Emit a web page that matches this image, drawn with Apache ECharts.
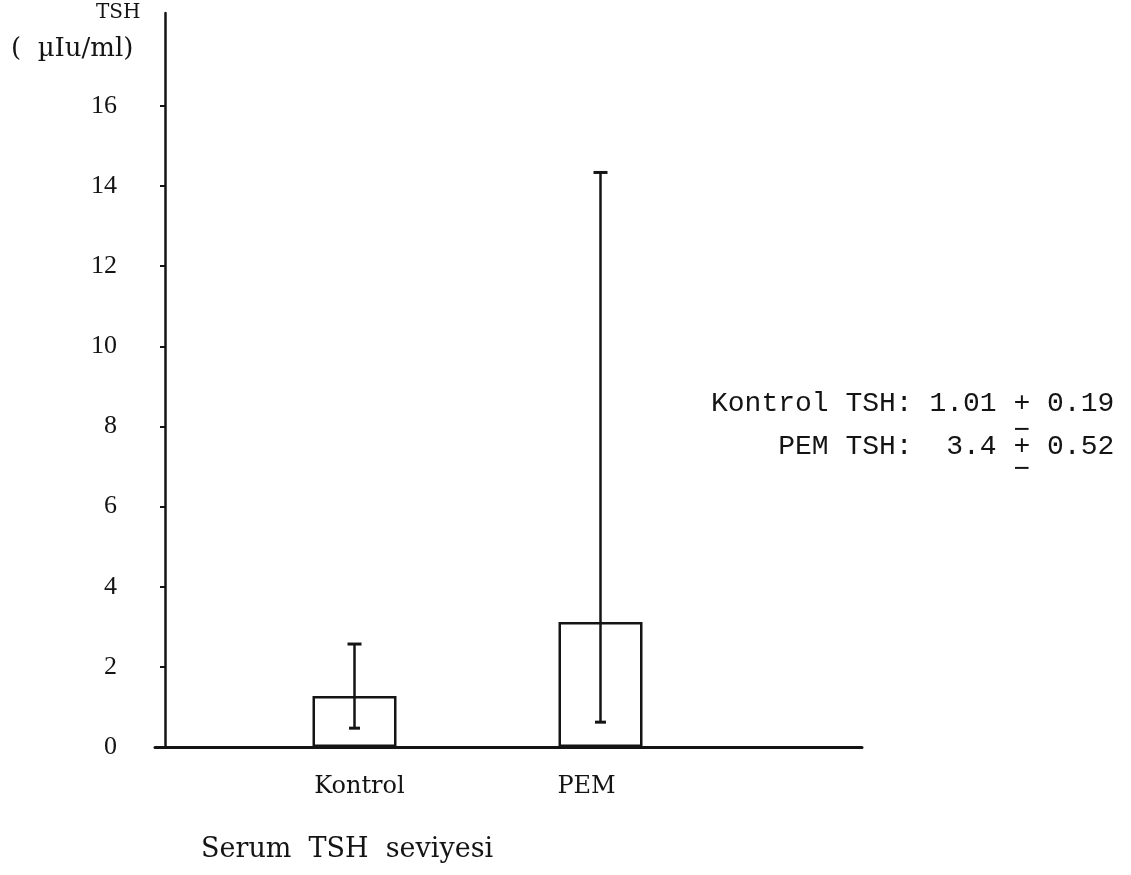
<!DOCTYPE html>
<html>
<head>
<meta charset="utf-8">
<script src="https://cdn.jsdelivr.net/npm/echarts@6/dist/echarts.min.js"></script>
<style>
html,body{margin:0;padding:0;background:#fff;}
#chart{width:1131px;height:875px;}
</style>
</head>
<body>
<div id="chart"></div>
<script>
// ---- data ----
var categories = ['Kontrol', 'PEM'];
var meanValues = [1.27, 3.12];
var errLow = [0.47, 0.62];
var errHigh = [2.57, 14.34];
var yTickValues = [0, 2, 4, 6, 8, 10, 12, 14, 16];
var yTickLabels = ['0', '2', '4', '6', '8', '10', '12', '14', '16'];
var noteLines = ['Kontrol TSH: 1.01 + 0.19', '    PEM TSH:  3.4 + 0.52'];
var yTitleLines = ['TSH', '(  \u00b5Iu/ml)'];
var xTitle = 'Serum  TSH  seviyesi';

// ---- build ----
var barData = categories.map(function (c, i) { return [i + 1, meanValues[i]]; });
var errData = categories.map(function (c, i) { return [i + 1, errLow[i], errHigh[i]]; });
var INK = '#141414';
var serif = '"DejaVu Serif", serif';
var mono = '"Liberation Mono", monospace';
var charW = 28 * 0.6001;
var noteLeft = 711;

var chart = echarts.init(document.getElementById('chart'), null, {renderer: 'canvas'});
chart.setOption({
  backgroundColor: '#ffffff',
  animation: false,
  title: {
    text: xTitle,
    left: 201,
    top: 836,
    padding: 0,
    textStyle: {fontFamily: serif, fontSize: 27, fontWeight: 'normal', color: INK}
  },
  grid: {left: 155, right: 269, top: 13, bottom: 128, containLabel: false},
  xAxis: {
    type: 'value',
    min: 0.189,
    max: 3.063,
    splitLine: {show: false},
    axisTick: {show: false},
    axisLine: {show: true, onZero: false, lineStyle: {color: INK, width: 3}},
    axisLabel: {
      customValues: categories.map(function (c, i) { return i + 1; }),
      formatter: function (v) {
        var i = Math.round(v) - 1;
        return '{c' + i + '|' + (categories[i] || '') + '}';
      },
      margin: 28,
      fontFamily: serif,
      fontSize: 24,
      color: INK,
      rich: {
        c0: {fontFamily: serif, fontSize: 24, color: INK, padding: [0, 0, 0, 10]},
        c1: {fontFamily: serif, fontSize: 24, color: INK, padding: [0, 28, 0, 0]}
      }
    }
  },
  yAxis: {
    type: 'value',
    min: 0,
    max: 18.32,
    interval: 2,
    offset: -10,
    splitLine: {show: false},
    axisLine: {show: true, onZero: false, lineStyle: {color: INK, width: 2.5}},
    axisTick: {show: true, length: 5, customValues: yTickValues, lineStyle: {color: INK, width: 2}},
    axisLabel: {
      customValues: yTickValues,
      formatter: function (v) { var i = yTickValues.indexOf(v); return i >= 0 ? yTickLabels[i] : ''; },
      margin: 48,
      fontFamily: '"Liberation Serif", serif',
      fontSize: 26,
      color: INK
    }
  },
  series: [
    {
      type: 'bar',
      data: barData,
      barWidth: 84,
      itemStyle: {color: '#ffffff', borderColor: INK, borderWidth: 2.5},
      z: 2
    },
    {
      type: 'custom',
      data: errData,
      z: 3,
      renderItem: function (params, api) {
        var x = api.value(0);
        var lo = api.coord([x, api.value(1)]);
        var hi = api.coord([x, api.value(2)]);
        var capTop = 7, capBot = 5.5;
        var st = {stroke: INK, lineWidth: 2.5};
        return {
          type: 'group',
          children: [
            {type: 'line', shape: {x1: hi[0], y1: hi[1], x2: lo[0], y2: lo[1]}, style: st},
            {type: 'line', shape: {x1: hi[0] - capTop, y1: hi[1], x2: hi[0] + capTop, y2: hi[1]}, style: {stroke: INK, lineWidth: 3}},
            {type: 'line', shape: {x1: lo[0] - capBot, y1: lo[1], x2: lo[0] + capBot, y2: lo[1]}, style: {stroke: INK, lineWidth: 3}}
          ]
        };
      }
    }
  ],
  graphic: [
    {type: 'text', left: 96, top: 3, style: {text: yTitleLines[0], fontFamily: serif, fontSize: 20, fill: INK}},
    {type: 'text', left: 11, top: 36, style: {text: yTitleLines[1], fontFamily: serif, fontSize: 26, fill: INK}},
    {type: 'text', x: noteLeft, y: 404, style: {text: noteLines[0], fontFamily: mono, fontSize: 28, fill: INK, verticalAlign: 'middle'}},
    {type: 'text', x: noteLeft, y: 447, style: {text: noteLines[1], fontFamily: mono, fontSize: 28, fill: INK, verticalAlign: 'middle'}},
    {type: 'text', x: noteLeft + 18 * charW, y: 431, style: {text: '\u2212', fontFamily: mono, fontSize: 28, fill: INK, verticalAlign: 'middle'}},
    {type: 'text', x: noteLeft + 18 * charW, y: 470, style: {text: '\u2212', fontFamily: mono, fontSize: 28, fill: INK, verticalAlign: 'middle'}}
  ]
});
</script>
</body>
</html>
